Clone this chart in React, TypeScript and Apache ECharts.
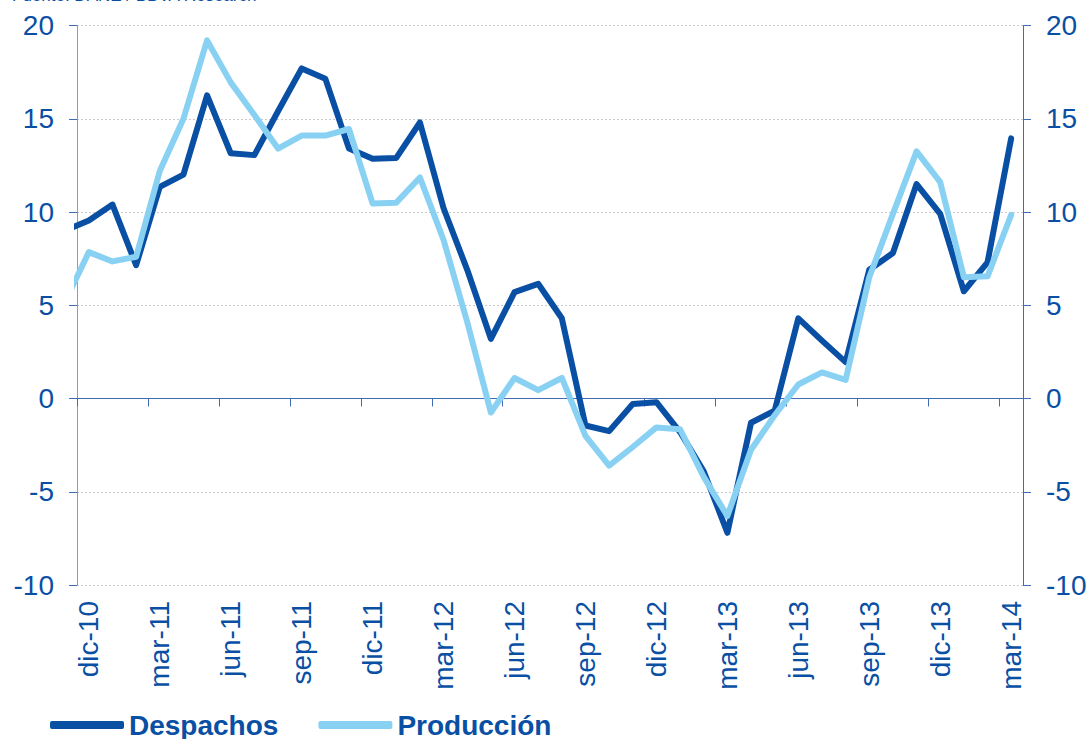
import React, { useEffect, useRef } from "react";
import * as echarts from "echarts";

// Monthly data, nov-10 .. mar-14 (nov-10 lies just left of the plot and is clipped)
const months = [
  "nov-10", "dic-10", "ene-11", "feb-11", "mar-11", "abr-11", "may-11", "jun-11", "jul-11", "ago-11",
  "sep-11", "oct-11", "nov-11", "dic-11", "ene-12", "feb-12", "mar-12", "abr-12", "may-12", "jun-12",
  "jul-12", "ago-12", "sep-12", "oct-12", "nov-12", "dic-12", "ene-13", "feb-13", "mar-13", "abr-13",
  "may-13", "jun-13", "jul-13", "ago-13", "sep-13", "oct-13", "nov-13", "dic-13", "ene-14", "feb-14",
  "mar-14",
];

const despachos = [
  9.0, 9.55, 10.4, 7.15, 11.35, 12.0, 16.25, 13.15, 13.05, 15.4,
  17.7, 17.15, 13.4, 12.85, 12.9, 14.8, 10.2, 6.9, 3.2, 5.7,
  6.15, 4.3, -1.45, -1.75, -0.3, -0.2, -1.8, -3.9, -7.2, -1.3,
  -0.65, 4.3, 3.1, 1.95, 6.9, 7.8, 11.5, 9.9, 5.75, 7.3,
  13.95,
];

const produccion = [
  5.2, 7.85, 7.35, 7.6, 12.2, 15.0, 19.2, 16.95, 15.2, 13.4,
  14.1, 14.1, 14.45, 10.45, 10.5, 11.85, 8.5, 4.1, -0.75, 1.1,
  0.45, 1.1, -2.0, -3.6, -2.6, -1.55, -1.65, -4.2, -6.3, -2.75,
  -0.9, 0.75, 1.4, 1.0, 6.5, 9.9, 13.25, 11.6, 6.5, 6.55,
  9.85,
];

const seriesNames = ["Despachos", "Producción"];
const yMin = -10;
const yMax = 20;
const yStep = 5;
const sourceText = "Fuente: DANE / BBVA Research";

const DARK = "#094FA4";
const LIGHT = "#89D1F3";
const AXIS = "#3f6cb5";
const FONT = "'Liberation Sans', Arial, sans-serif";

export default function App() {
  const ref = useRef<HTMLDivElement>(null);

  useEffect(() => {
    if (!ref.current) return;
    const chart = echarts.init(ref.current, undefined, { renderer: "svg" });

    const categories = months.slice(1); // dic-10 .. mar-14
    const toPoints = (vals: number[]) => vals.map((v, i) => [i - 0.5, v]);

    const yAxisCommon = {
      type: "value" as const,
      min: yMin,
      max: yMax,
      interval: yStep,
      axisLine: { show: true, onZero: false, lineStyle: { color: AXIS, width: 1 } },
      axisTick: { show: true, length: 8, lineStyle: { color: AXIS } },
      axisLabel: { color: DARK, fontSize: 28, fontFamily: FONT, margin: 23 },
    };

    chart.setOption({
      animation: false,
      backgroundColor: "#ffffff",
      graphic: [
        {
          type: "text",
          left: 12,
          top: -13,
          style: { text: sourceText, fontSize: 17, fontFamily: FONT, fill: DARK },
        },
      ],
      legend: {
        data: seriesNames,
        left: 45,
        top: 706,
        icon: "roundRect",
        itemWidth: 74,
        itemHeight: 8,
        itemGap: 40,
        textStyle: {
          color: DARK,
          fontSize: 28,
          fontWeight: "bold",
          fontFamily: FONT,
        },
      },
      grid: { left: 77, right: 68, top: 25.5, bottom: 154, containLabel: false },
      xAxis: [
        {
          type: "category",
          data: categories,
          position: "bottom",
          boundaryGap: true,
          axisLine: { show: false, onZero: false },
          axisTick: { show: false },
          splitLine: { show: false },
          axisLabel: {
            interval: 2,
            rotate: 90,
            margin: 16,
            color: DARK,
            fontSize: 28,
            fontFamily: FONT,
          },
        },
        {
          type: "value",
          min: 0,
          max: categories.length,
          interval: 3,
          position: "top",
          axisLine: { show: true, onZero: true, lineStyle: { color: AXIS, width: 1 } },
          axisTick: { show: true, inside: true, length: 8, lineStyle: { color: AXIS } },
          axisLabel: { show: false },
          splitLine: { show: false },
        },
      ],
      yAxis: [
        {
          ...yAxisCommon,
          position: "left",
          axisLine: { show: true, onZero: false, lineStyle: { color: "#7f9fd2", width: 1 } },
          splitLine: {
            show: true,
            lineStyle: { color: "#c9c9c9", width: 1, type: [2, 2] },
          },
        },
        {
          ...yAxisCommon,
          position: "right",
          splitLine: { show: false },
        },
      ],
      series: [
        {
          name: seriesNames[0],
          type: "line",
          xAxisIndex: 1,
          yAxisIndex: 0,
          data: toPoints(despachos),
          showSymbol: false,
          symbol: "none",
          clip: true,
          color: DARK,
          lineStyle: { color: DARK, width: 6, cap: "round", join: "round" },
        },
        {
          name: seriesNames[1],
          type: "line",
          xAxisIndex: 1,
          yAxisIndex: 0,
          data: toPoints(produccion),
          showSymbol: false,
          symbol: "none",
          clip: true,
          color: LIGHT,
          lineStyle: { color: LIGHT, width: 6, cap: "round", join: "round" },
        },
      ],
    });

    return () => chart.dispose();
  }, []);

  return (
    <div
      ref={ref}
      style={{ position: "fixed", left: 0, top: 0, width: 1091, height: 739, background: "#fff" }}
    />
  );
}
